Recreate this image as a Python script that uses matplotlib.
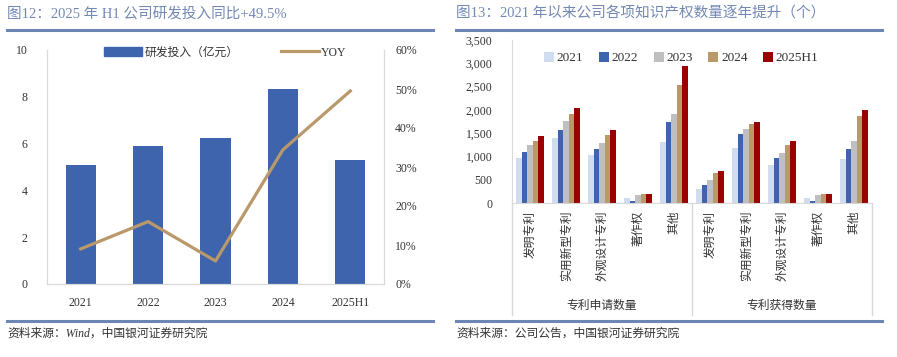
import numpy as np
import matplotlib
matplotlib.use("Agg")
import matplotlib.pyplot as plt
from matplotlib.ticker import FuncFormatter, PercentFormatter
from matplotlib.patches import Patch
from matplotlib.lines import Line2D

plt.rcParams['font.family'] = ['Liberation Serif', 'Noto Sans CJK SC', 'DejaVu Sans']

# left chart data
years = ["2021", "2022", "2023", "2024", "2025H1"]
rd_spend = [5.10, 5.90, 6.22, 8.32, 5.30]      # 亿元
rd_yoy = [9.0, 16.0, 5.9, 34.4, 49.5]           # %

# right chart data
ip_years = ["2021", "2022", "2023", "2024", "2025H1"]
ip_cats = ["发明专利", "实用新型专利", "外观设计专利", "著作权", "其他"]
ip_groups = ["专利申请数量", "专利获得数量"]
ip_apply = {
    "2021":   [970, 1395, 1030, 105, 1300],
    "2022":   [1095, 1570, 1150, 50, 1730],
    "2023":   [1245, 1755, 1290, 180, 1910],
    "2024":   [1330, 1905, 1455, 200, 2530],
    "2025H1": [1430, 2030, 1565, 200, 2950],
}
ip_grant = {
    "2021":   [305, 1175, 815, 105, 950],
    "2022":   [395, 1475, 960, 50, 1160],
    "2023":   [500, 1590, 1075, 180, 1340],
    "2024":   [645, 1690, 1245, 200, 1870],
    "2025H1": [695, 1745, 1330, 200, 1990],
}

BLUE = "#3D64AD"
TAN = "#B9986A"
ip_colors = ["#D0DCF0", "#3D64AD", "#BFBFBF", "#B9986A", "#990000"]
TITLE_C = "#7388B4"
RULE_C = "#6E86B6"
TEXT_C = "#333333"
SPINE_C = "#D9D9D9"

W, H = 897, 357
fig = plt.figure(figsize=(W / 100, H / 100), dpi=100)


def px_axes(x0, y0, x1, y1):
    return fig.add_axes([x0 / W, 1 - y1 / H, (x1 - x0) / W, (y1 - y0) / H])


# titles and rules
fig.text(7 / W, 1 - 14 / H, "图12：2025 年 H1 公司研发投入同比+49.5%", color=TITLE_C,
         fontsize=10.5, va="center", ha="left")
fig.text(456 / W, 1 - 14 / H, "图13：2021 年以来公司各项知识产权数量逐年提升（个）", color=TITLE_C,
         fontsize=10.5, va="center", ha="left")
for x0, x1 in [(7, 433), (456, 882)]:
    for yy in (30, 321):
        fig.add_artist(Line2D([x0 / W, x1 / W], [1 - yy / H] * 2, color=RULE_C, lw=2.2))
fig.text(7 / W, 1 - 334 / H, "资料来源：Wind，中国银河证券研究院", color=TEXT_C, fontsize=8.5,
         style="italic", va="center", ha="left")
fig.text(456 / W, 1 - 334 / H, "资料来源：公司公告，中国银河证券研究院", color=TEXT_C, fontsize=8.5,
         style="italic", va="center", ha="left")

# ---- left chart ----
ax = px_axes(47, 50, 384, 284)
x = np.arange(len(years))
ax.bar(x, rd_spend, width=0.45, color=BLUE, zorder=2)
ax.set_xlim(-0.5, len(years) - 0.5)
ax.set_ylim(0, 10)
ax.set_yticks(range(0, 11, 2))
ax.set_xticks(x)
ax.set_xticklabels(years)
ax2 = ax.twinx()
ax2.plot(x, rd_yoy, color=TAN, lw=2.3, zorder=3)
ax2.set_ylim(0, 60)
ax2.set_yticks(range(0, 61, 10))
ax2.yaxis.set_major_formatter(PercentFormatter(decimals=0))
for a in (ax, ax2):
    a.tick_params(length=0, labelsize=8.5, colors=TEXT_C)
    a.spines["top"].set_visible(False)
    a.spines["left"].set_color(SPINE_C)
    a.spines["right"].set_color(SPINE_C)
    a.spines["bottom"].set_color(SPINE_C)
ax.tick_params(axis="y", pad=14)
ax2.tick_params(axis="y", pad=8)
ax.tick_params(axis="x", pad=9)
handles = [Patch(color=BLUE), Line2D([], [], color=TAN, lw=2.3)]
ax2.legend(handles, ["研发投入（亿元）", "YOY"], loc="upper center", bbox_to_anchor=(0.53, 1.06),
           ncol=2, frameon=False, fontsize=8.5, handlelength=3.2, handleheight=0.9,
           columnspacing=3.6, handletextpad=0.2, labelcolor=TEXT_C)

# ---- right chart ----
bx = px_axes(512, 40, 872, 203)
n_cat = len(ip_cats) * len(ip_groups)
xc = np.arange(n_cat)
bw = 0.155
for i, yr in enumerate(ip_years):
    vals = ip_apply[yr] + ip_grant[yr]
    bx.bar(xc + (i - 2) * bw, vals, width=bw, color=ip_colors[i], label=yr, zorder=2)
bx.set_xlim(-0.5, n_cat - 0.5)
bx.set_ylim(0, 3500)
bx.set_yticks(range(0, 3501, 500))
bx.yaxis.set_major_formatter(FuncFormatter(lambda v, p: f"{int(v):,}"))
bx.set_xticks([])
bx.tick_params(length=0, labelsize=8.5, colors=TEXT_C, pad=14)
bx.spines["top"].set_visible(False)
bx.spines["right"].set_visible(False)
bx.spines["left"].set_color(SPINE_C)
bx.spines["bottom"].set_color(SPINE_C)
low = -(315 - 203) / 163
for xs in (0, 0.5, 1.0):
    bx.plot([xs, xs], [0, low], transform=bx.transAxes, color=SPINE_C, lw=1, clip_on=False)
for j in range(n_cat):
    bx.text(xc[j], -170, ip_cats[j % len(ip_cats)], rotation=90, ha="center", va="top",
            fontsize=8.5, color=TEXT_C, family=["Noto Sans CJK SC"])
for g, name in enumerate(ip_groups):
    bx.text(0.25 + 0.5 * g, -(305 - 203) / 163, name, transform=bx.transAxes, ha="center",
            va="center", fontsize=8.5, color=TEXT_C, family=["Noto Sans CJK SC"])
bx.legend(loc="upper center", bbox_to_anchor=(0.47, 1.0), ncol=5, frameon=False, fontsize=9.5,
          handlelength=0.75, handleheight=0.75, handletextpad=0.2, columnspacing=1.2,
          labelcolor=TEXT_C)

fig.savefig("out.png", dpi=100)
